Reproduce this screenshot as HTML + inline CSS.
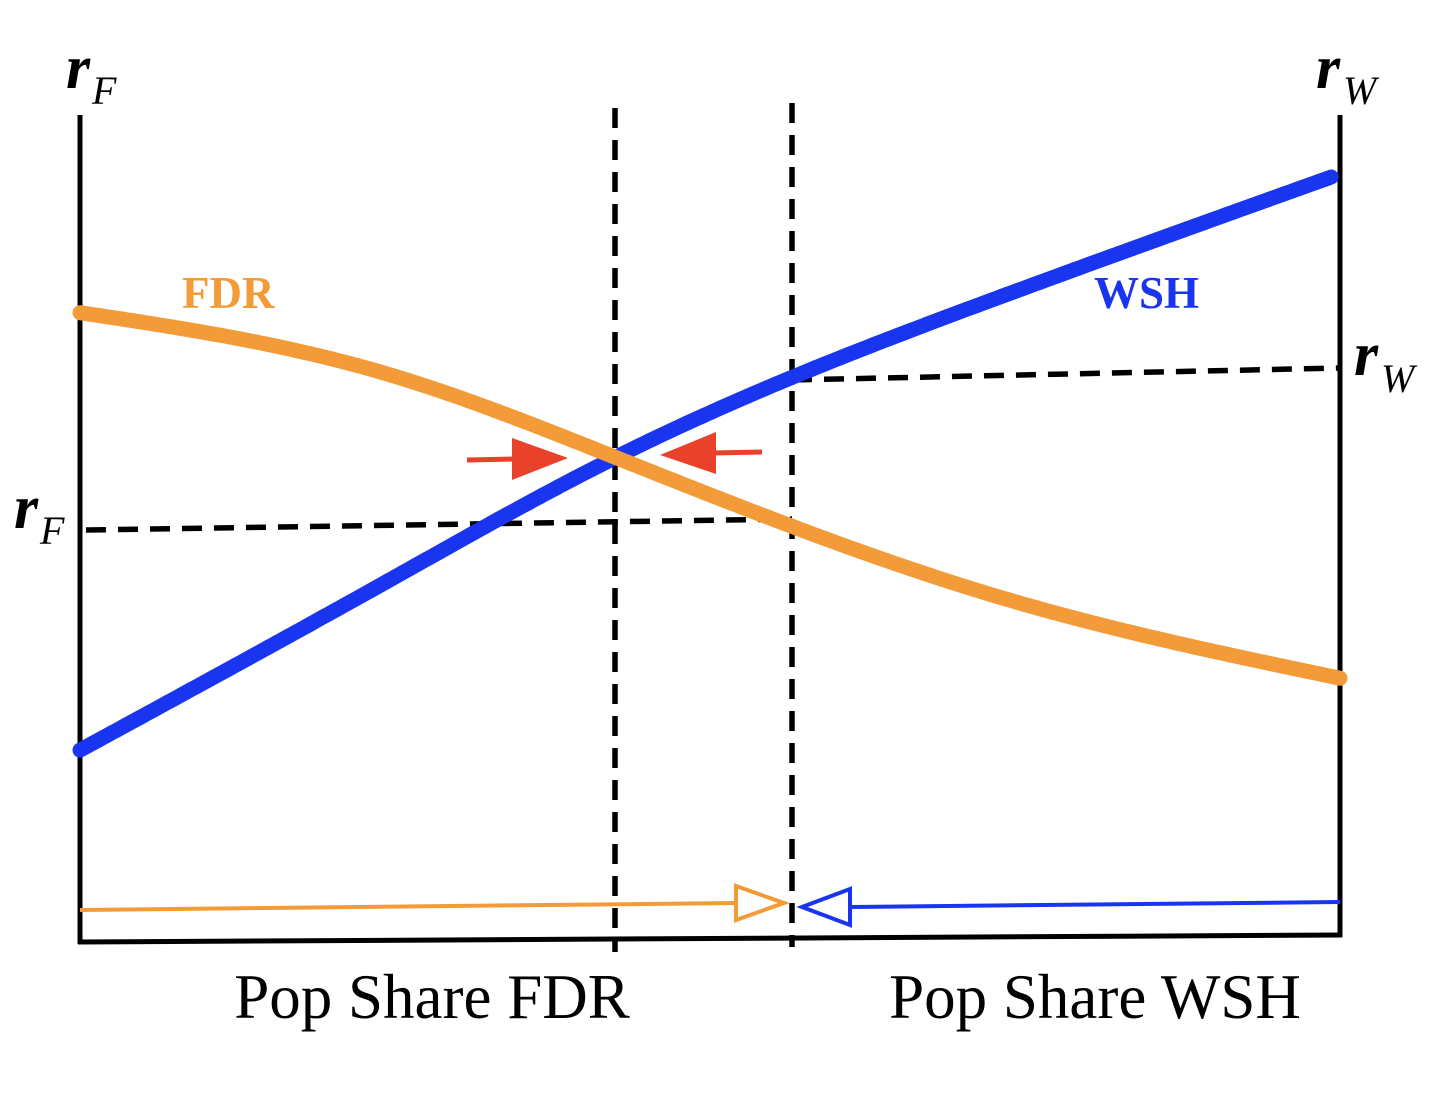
<!DOCTYPE html>
<html><head><meta charset="utf-8"><style>
html,body{margin:0;padding:0;background:#fff;}
svg text{font-family:"Liberation Serif",serif;}
</style></head><body>
<svg id="chart" width="1454" height="1098" viewBox="0 0 1454 1098" xmlns="http://www.w3.org/2000/svg">
<g id="axes" stroke="#000" stroke-width="5" fill="none">
  <line x1="80" y1="115" x2="80" y2="944"/>
  <line x1="1340" y1="115" x2="1340" y2="937"/>
  <line x1="78" y1="942" x2="1342" y2="935"/>
</g>
<g stroke="#000" stroke-width="5.5" stroke-dasharray="20 12" fill="none">
  <line x1="615" y1="108" x2="615" y2="952"/>
  <line x1="792" y1="103" x2="792" y2="947"/>
  <line x1="86" y1="530" x2="792" y2="519"/>
  <line x1="792" y1="380" x2="1340" y2="368"/>
</g>
<g id="curves"></g>
<g fill="#E8432A" stroke="#E8432A">
  <line x1="467" y1="460" x2="516" y2="459" stroke-width="5"/>
  <polygon points="512,438 512,480 568,458" stroke="none"/>
  <line x1="712" y1="453" x2="762" y2="452" stroke-width="5"/>
  <polygon points="660,455 716,432 716,474" stroke="none"/>
</g>
<g fill="#fff" stroke-width="4">
  <line x1="80" y1="910" x2="736" y2="903" stroke="#F29B38"/>
  <polygon points="736,886 736,920 784,903" stroke="#F29B38"/>
  <line x1="1340" y1="902" x2="850" y2="907" stroke="#1A35F0"/>
  <polygon points="850,889 850,925 802,907" stroke="#1A35F0"/>
</g>
<g>
  <text x="66" y="88" font-size="62" font-style="italic" font-weight="bold">r</text>
  <text x="92" y="104" font-size="40" font-style="italic">F</text>
  <text x="1316" y="88" font-size="62" font-style="italic" font-weight="bold">r</text>
  <text x="1343" y="104" font-size="40" font-style="italic">W</text>
  <text x="14" y="528" font-size="62" font-style="italic" font-weight="bold">r</text>
  <text x="40" y="544" font-size="40" font-style="italic">F</text>
  <text x="1354" y="375" font-size="62" font-style="italic" font-weight="bold">r</text>
  <text x="1381" y="392" font-size="40" font-style="italic">W</text>
  <text x="182" y="308" font-size="45" font-weight="bold" fill="#F29B38">FDR</text>
  <text x="1094" y="308" font-size="45" font-weight="bold" fill="#1A35F0">WSH</text>
  <text x="432" y="1018" font-size="63" text-anchor="middle">Pop Share FDR</text>
  <text x="1095" y="1018" font-size="63" text-anchor="middle">Pop Share WSH</text>
</g>
</svg>
<script>
const xShare = [0, 0.239, 0.425, 0.732, 1.0];
const fdrRate = [76.1, 68.9, 58.6, 41.6, 31.9];
const wshShare = [0, 0.239, 0.425, 0.732, 0.993];
const wshRate = [23.2, 43.2, 58.6, 78.1, 92.5];

function sx(v){ return 80 + v * 1260; }
function sy(v){ return 942 - v * 8.27; }
function spline(xs, ys){
  const n = xs.length, h = [], a = [], m = new Array(n).fill(0);
  for (let i=0;i<n-1;i++) h.push(xs[i+1]-xs[i]);
  const l = new Array(n).fill(1), mu = new Array(n).fill(0), z = new Array(n).fill(0);
  for (let i=1;i<n-1;i++){
    const al = 3/h[i]*(ys[i+1]-ys[i]) - 3/h[i-1]*(ys[i]-ys[i-1]);
    l[i] = 2*(xs[i+1]-xs[i-1]) - h[i-1]*mu[i-1];
    mu[i] = h[i]/l[i];
    z[i] = (al - h[i-1]*z[i-1])/l[i];
  }
  const c = new Array(n).fill(0), b = [], d = [];
  for (let j=n-2;j>=0;j--){
    c[j] = z[j] - mu[j]*c[j+1];
    b[j] = (ys[j+1]-ys[j])/h[j] - h[j]*(c[j+1]+2*c[j])/3;
    d[j] = (c[j+1]-c[j])/(3*h[j]);
  }
  return function(x){
    let j = 0;
    while (j < n-2 && x > xs[j+1]) j++;
    const t = x - xs[j];
    return ys[j] + b[j]*t + c[j]*t*t + d[j]*t*t*t;
  };
}
function pathFrom(xs, ys){
  const f = spline(xs, ys);
  const x0 = xs[0], x1 = xs[xs.length-1];
  const steps = Math.round((sx(x1)-sx(x0))/4);
  let d = '';
  for (let i=0;i<=steps;i++){
    const x = x0 + (x1-x0)*i/steps;
    d += (i===0?'M':' L') + sx(x).toFixed(1) + ',' + sy(f(x)).toFixed(1);
  }
  return d;
}
const g = document.getElementById('curves');
const NS = 'http://www.w3.org/2000/svg';
const wsh = document.createElementNS(NS,'path');
wsh.setAttribute('d', pathFrom(wshShare, wshRate));
wsh.setAttribute('stroke', '#1A35F0');
wsh.setAttribute('stroke-width', '15');
wsh.setAttribute('fill', 'none');
wsh.setAttribute('stroke-linecap', 'round');
wsh.setAttribute('stroke-linejoin', 'round');


g.appendChild(wsh);
const fdr = document.createElementNS(NS,'path');
fdr.setAttribute('d', pathFrom(xShare, fdrRate));
fdr.setAttribute('stroke', '#F29B38');
fdr.setAttribute('stroke-width', '15');
fdr.setAttribute('fill', 'none');
fdr.setAttribute('stroke-linecap', 'round');
fdr.setAttribute('stroke-linejoin', 'round');


g.appendChild(fdr);
</script>
</body></html>
